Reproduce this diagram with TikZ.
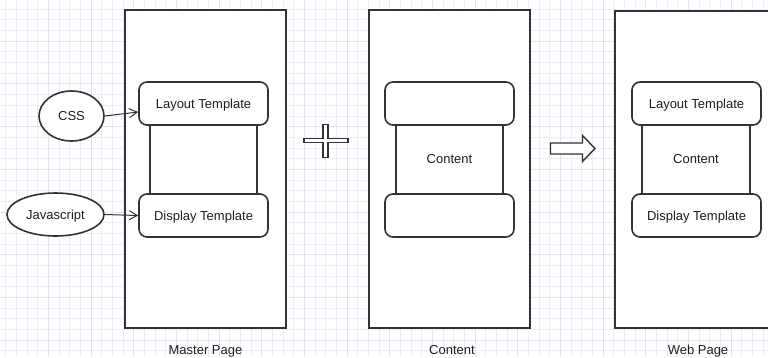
\documentclass[tikz,border=0pt]{standalone}
\usepackage{fontspec}
\setmainfont{Liberation Sans}
\usetikzlibrary{shapes.geometric,arrows.meta}

\definecolor{gridminor}{RGB}{236,236,255}
\definecolor{gridmajor}{RGB}{226,226,252}
\definecolor{ink}{RGB}{51,51,51}
\definecolor{textink}{RGB}{30,30,30}

\tikzset{
  frame/.style={draw=ink, line width=2pt, fill=white},
  tbox/.style={draw=ink, line width=1.6pt, fill=white, rounded corners=8pt,
               minimum width=129pt, minimum height=43pt, inner sep=0pt},
  core/.style={draw=ink, line width=1.6pt, fill=white,
               minimum width=107pt, minimum height=69pt, inner sep=0pt},
  oval/.style={ellipse, draw=ink, line width=1.6pt, fill=white, inner sep=0pt},
  txt/.style={font=\fontsize{13}{15}\selectfont, text=textink,
              text height=9.3pt, text depth=0pt},
  caption/.style={font=\fontsize{13}{15}\selectfont, text=textink, anchor=base},
  link/.style={draw=ink, line width=1pt, -{Straight Barb[length=8pt,width=9pt,line width=1pt]}},
}

\begin{document}
\begin{tikzpicture}[x=1pt,y=-1pt]
  \useasboundingbox (0,0) rectangle (768,357);
  \clip (0,0) rectangle (768,357);

  % background grid
  \foreach \i in {0,...,72} {
    \pgfmathsetmacro{\gx}{5.7+10.67*\i}
    \draw[gridminor, line width=1pt] (\gx,0) -- (\gx,357);
  }
  \foreach \j in {0,...,33} {
    \pgfmathsetmacro{\gy}{9.3+10.67*\j}
    \draw[gridminor, line width=1pt] (0,\gy) -- (768,\gy);
  }
  \foreach \i in {0,...,18} {
    \pgfmathsetmacro{\gx}{48.4+42.68*\i}
    \draw[gridmajor, line width=1pt] (\gx,0) -- (\gx,357);
  }
  \foreach \j in {0,...,8} {
    \pgfmathsetmacro{\gy}{41.3+42.68*\j}
    \draw[gridmajor, line width=1pt] (0,\gy) -- (768,\gy);
  }

  % ---------- Master Page ----------
  \draw[frame] (125,10) rectangle (286,327.5);
  \node[core] (mc) at (203.5,159) {};
  \node[tbox, txt] (ml) at (203.5,103.5) {Layout Template};
  \node[tbox, txt] (md) at (203.5,215.5) {Display Template};
  \node[caption] (mlabel) at (205.5,354) {Master Page};

  \node[oval, minimum width=65pt, minimum height=50pt, txt] (css) at (71.5,116) {CSS};
  \node[oval, minimum width=97pt, minimum height=43pt, txt] (js) at (55.5,214.5) {Javascript};
  \draw[link] (css.east) -- ([yshift=-8.5pt]ml.west);
  \draw[link] (js.east) -- (md.west);

  % ---------- plus sign ----------
  \node[coordinate] (plus) at (326,140.5) {};
  \draw[draw=ink, line width=1.4pt, fill=white]
    ([shift={(-22,-2)}]plus) -- ([shift={(-3,-2)}]plus) -- ([shift={(-3,-16)}]plus)
    -- ([shift={(2,-16)}]plus) -- ([shift={(2,-2)}]plus) -- ([shift={(22,-2)}]plus)
    -- ([shift={(22,2)}]plus) -- ([shift={(2,2)}]plus) -- ([shift={(2,17)}]plus)
    -- ([shift={(-3,17)}]plus) -- ([shift={(-3,2)}]plus) -- ([shift={(-22,2)}]plus) -- cycle;

  % ---------- Content ----------
  \draw[frame] (369,10) rectangle (530,327.5);
  \node[core, txt] (cc) at (449.5,159) {Content};
  \node[tbox] (ct) at (449.5,103.5) {};
  \node[tbox] (cb) at (449.5,215.5) {};
  \node[caption] (clabel) at (452,354) {Content};

  % ---------- block arrow ----------
  \node[coordinate] (barrow) at (550.5,148.5) {};
  \draw[draw=ink, line width=1.4pt, fill=white]
    ([shift={(0,-5.5)}]barrow) -- ([shift={(32,-5.5)}]barrow) -- ([shift={(32,-13)}]barrow)
    -- ([shift={(44.5,0)}]barrow) -- ([shift={(32,13)}]barrow) -- ([shift={(32,5.5)}]barrow)
    -- ([shift={(0,5.5)}]barrow) -- cycle;

  % ---------- Web Page ----------
  \draw[frame] (615,10.5) rectangle (782,327.5);
  \node[core, minimum width=108pt, txt] (wc) at (696,159) {Content};
  \node[tbox, txt] (wl) at (696.5,103.5) {Layout Template};
  \node[tbox, txt] (wd) at (696.5,215.5) {Display Template};
  \node[caption] (wlabel) at (698,354) {Web Page};
\end{tikzpicture}
\end{document}
